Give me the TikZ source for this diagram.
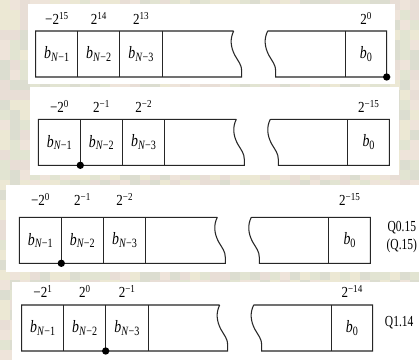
\documentclass[tikz,border=0pt]{standalone}
\usepackage{fontspec}
\setmainfont{Liberation Serif}
\usepackage{graphicx}
\definecolor{tA}{RGB}{238,228,218}
\definecolor{tB}{RGB}{226,228,210}
\definecolor{tC}{RGB}{236,232,212}
\definecolor{tD}{RGB}{220,221,208}
\definecolor{tE}{RGB}{232,222,214}
\newcommand\sqz[2]{\scalebox{#1}[1]{#2}}
\newcommand\bbit[1]{\sqz{0.8}{\textit{b}\raisebox{-0.32ex}{\fontsize{9.5}{10}\selectfont #1}}}
\newcommand\sups[1]{\raisebox{0.75ex}{\fontsize{8}{8}\selectfont #1}}
\newcommand\wgt[1]{\sqz{0.85}{#1}}
\newcommand\regbox{%
  \draw[reg] (198,0) -- (0,0) -- (0,46) -- (206,46) -- (206,40)
    .. controls (206,34) and (203,31) .. (199,24)
    .. controls (195,16) and (194,8) .. (198,0);
  \draw[reg] (232,0) -- (351,0) -- (351,46) -- (240,46) -- (240,40)
    .. controls (240,34) and (237,31) .. (233,24)
    .. controls (229,16) and (228,8) .. (232,0);
  \foreach \u in {42,84,126.5,309.5} \draw[reg] (\u,0) -- (\u,46);
}
\tikzset{
  x=0.75pt, y=-0.75pt,
  reg/.style={draw=black!85, line width=0.8pt},
  panel/.style={fill=white, draw=none},
  bit/.style={font=\fontsize{13}{14}\selectfont, inner sep=0pt},
  wt/.style={font=\fontsize{11.5}{12}\selectfont, inner sep=0pt, anchor=base},
  qlab/.style={font=\fontsize{11.5}{13.5}\selectfont, align=center, inner sep=0pt},
  dotc/.style={circle, fill=black, inner sep=0pt, minimum size=5.5pt}
}
\begin{document}
\begin{tikzpicture}
\useasboundingbox (0,0) rectangle (419,360);
\pgfmathsetseed{7}
\pgfmathdeclarerandomlist{tiles}{{tA}{tB}{tC}{tD}{tE}}
\foreach \i in {0,...,41} {\foreach \j in {0,...,35} {%
  \pgfmathrandomitem{\c}{tiles}%
  \fill[\c] (\i*10,\j*10) rectangle ++(10,10);}}
% white panels
\fill[panel] (28,4) rectangle (395,84);
\fill[panel] (30,87) rectangle (399,175);
\fill[panel] (6,185) rectangle (419,272);
\fill[panel] (12,282) rectangle (419,360);
% register 1
\begin{scope}[shift={(35.7,31)}]
  \regbox
  \node[bit] (p1b1) at (21,23) {\bbit{\textit{N}−1}};
  \node[bit] (p1b2) at (63,23) {\bbit{\textit{N}−2}};
  \node[bit] (p1b3) at (105.25,23) {\bbit{\textit{N}−3}};
  \node[bit] (p1b0) at (330.25,23) {\bbit{0}};
  \node[wt] (p1w1) at (21,-6) {\wgt{−2\sups{15}}};
  \node[wt] (p1w2) at (63,-6) {\wgt{2\sups{14}}};
  \node[wt] (p1w3) at (105.25,-6) {\wgt{2\sups{13}}};
  \node[wt] (p1w0) at (330.25,-6) {\wgt{2\sups{0}}};
  \node[dotc] (p1d) at (351,46) {};
\end{scope}
% register 2
\begin{scope}[shift={(38.3,119.3)}]
  \regbox
  \node[bit] (p2b1) at (21,23) {\bbit{\textit{N}−1}};
  \node[bit] (p2b2) at (63,23) {\bbit{\textit{N}−2}};
  \node[bit] (p2b3) at (105.25,23) {\bbit{\textit{N}−3}};
  \node[bit] (p2b0) at (330.25,23) {\bbit{0}};
  \node[wt] (p2w1) at (21,-7) {\wgt{−2\sups{0}}};
  \node[wt] (p2w2) at (63,-7) {\wgt{2\sups{−1}}};
  \node[wt] (p2w3) at (105.25,-7) {\wgt{2\sups{−2}}};
  \node[wt] (p2w0) at (330.25,-7) {\wgt{2\sups{−15}}};
  \node[dotc] (p2d) at (42,46) {};
\end{scope}
% register 3
\begin{scope}[shift={(19.3,217.3)}]
  \regbox
  \node[bit] (p3b1) at (21,23) {\bbit{\textit{N}−1}};
  \node[bit] (p3b2) at (63,23) {\bbit{\textit{N}−2}};
  \node[bit] (p3b3) at (105.25,23) {\bbit{\textit{N}−3}};
  \node[bit] (p3b0) at (330.25,23) {\bbit{0}};
  \node[wt] (p3w1) at (21,-12) {\wgt{−2\sups{0}}};
  \node[wt] (p3w2) at (63,-12) {\wgt{2\sups{−1}}};
  \node[wt] (p3w3) at (105.25,-12) {\wgt{2\sups{−2}}};
  \node[wt] (p3w0) at (330.25,-12) {\wgt{2\sups{−15}}};
  \node[dotc] (p3d) at (42,46) {};
  \node[qlab] (p3q) at (382.5,19.5) {\sqz{0.75}{Q0.15}\\\sqz{0.75}{(Q.15)}};
\end{scope}
% register 4
\begin{scope}[shift={(21.7,305)}]
  \regbox
  \node[bit] (p4b1) at (21,23) {\bbit{\textit{N}−1}};
  \node[bit] (p4b2) at (63,23) {\bbit{\textit{N}−2}};
  \node[bit] (p4b3) at (105.25,23) {\bbit{\textit{N}−3}};
  \node[bit] (p4b0) at (330.25,23) {\bbit{0}};
  \node[wt] (p4w1) at (21,-7) {\wgt{−2\sups{1}}};
  \node[wt] (p4w2) at (63,-7) {\wgt{2\sups{0}}};
  \node[wt] (p4w3) at (105.25,-7) {\wgt{2\sups{−1}}};
  \node[wt] (p4w0) at (330.25,-7) {\wgt{2\sups{−14}}};
  \node[dotc] (p4d) at (84,46) {};
  \node[qlab] (p4q) at (377.5,17.7) {\sqz{0.75}{Q1.14}};
\end{scope}
\end{tikzpicture}
\end{document}
